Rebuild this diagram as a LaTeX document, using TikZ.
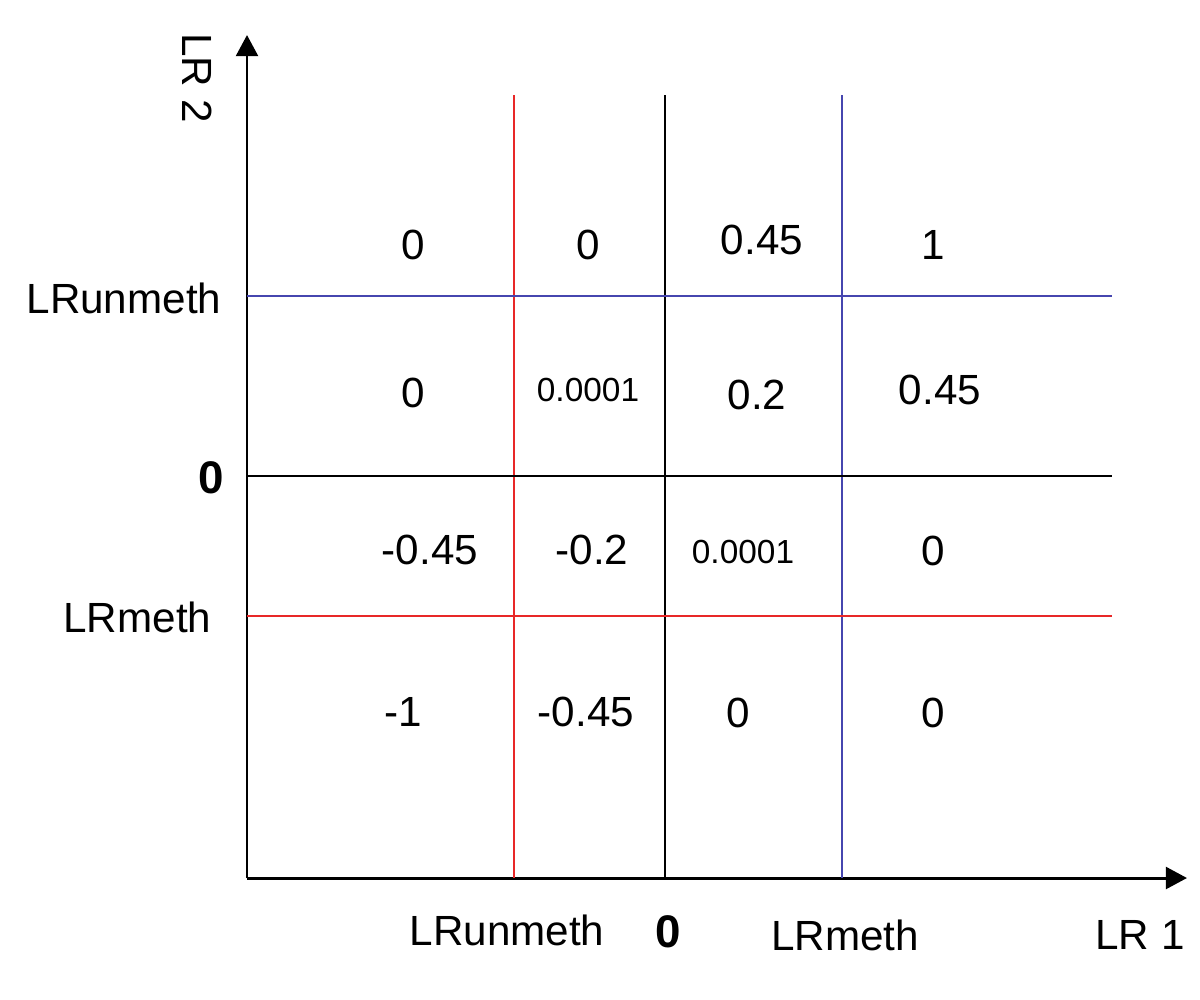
\documentclass[tikz,border=0pt]{standalone}
\usepackage{fontspec}
\setmainfont{Liberation Sans}
\usetikzlibrary{arrows.meta, positioning}
\definecolor{gridred}{RGB}{232,40,40}
\definecolor{gridblue}{RGB}{70,70,175}

\begin{document}
\begin{tikzpicture}[x=0.01cm, y=-0.01cm,
  axis/.style={line width=0.85pt, -{Triangle[length=6pt, width=6.2pt]}},
  gridline/.style={line width=0.6pt},
  val/.style={font=\fontsize{12}{14}\selectfont, inner sep=0pt},
  tiny val/.style={font=\fontsize{9.5}{11}\selectfont, inner sep=0pt},
  lab/.style={font=\fontsize{12}{14}\selectfont, inner sep=0pt},
  zero/.style={font=\fontsize{13}{15}\selectfont\bfseries, inner sep=0pt}]
\useasboundingbox (0,0) rectangle (1200,1000);

% Axes
\coordinate (origin) at (247,878);
\coordinate (ytip) at (247,35);
\coordinate (xtip) at (1187,878);
\draw[axis] (origin) -- (ytip);
\draw[axis] (origin) -- (xtip);
\node[lab, rotate=-90] (lrtwo) at (197,78) {LR 2};
\node[lab] (lrone) at (1140,935) {LR 1};

% Thresholds (vertical)
\draw[gridline, gridred] (514,95) -- (514,878);
\draw[gridline] (665,95) -- (665,878);
\draw[gridline, gridblue] (842,95) -- (842,878);

% Thresholds (horizontal)
\draw[gridline, gridblue] (247,296) -- (1112,296);
\draw[gridline] (247,476) -- (1112,476);
\draw[gridline, gridred] (247,616) -- (1112,616);

% Axis labels
\node[lab, anchor=east] (yunmeth) at (222,298) {LRunmeth};
\node[zero] (yzero) at (211,478) {0};
\node[lab, anchor=east] (ymeth) at (212,617) {LRmeth};
\node[lab] (xunmeth) at (507,930) {LRunmeth};
\node[zero] (xzero) at (668,932) {0};
\node[lab] (xmeth) at (845,935) {LRmeth};

% Row 1
\node[val] (a1) at (413,245) {0};
\node[val] (a2) at (588,245) {0};
\node[val] (a3) at (762,240) {0.45};
\node[val] (a4) at (933,245) {1};

% Row 2
\node[val] (b1) at (413,393) {0};
\node[tiny val] (b2) at (588,390) {0.0001};
\node[val] (b3) at (757,395) {0.2};
\node[val] (b4) at (940,390) {0.45};

% Row 3
\node[val] (c1) at (430,550) {-0.45};
\node[val] (c2) at (592,550) {-0.2};
\node[tiny val] (c3) at (743,552) {0.0001};
\node[val] (c4) at (933,551) {0};

% Row 4
\node[val] (d1) at (403,712) {-1};
\node[val] (d2) at (586,712) {-0.45};
\node[val] (d3) at (738,713) {0};
\node[val] (d4) at (933,713) {0};
\end{tikzpicture}
\end{document}
